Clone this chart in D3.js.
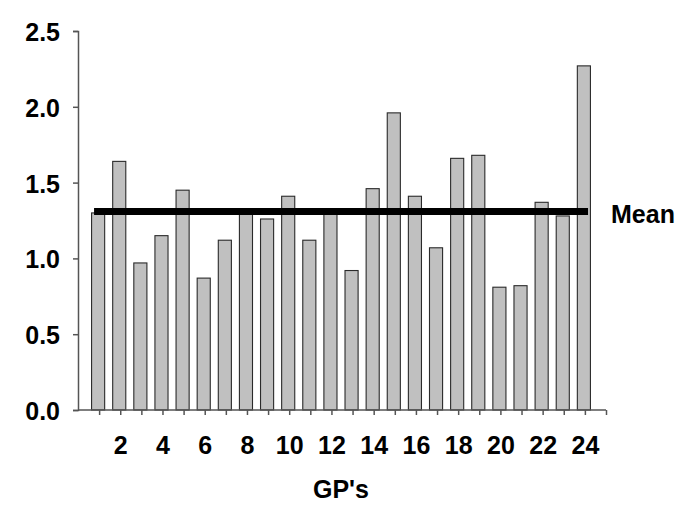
<!DOCTYPE html>
<html>
<head>
<meta charset="utf-8">
<script src="https://cdn.jsdelivr.net/npm/d3@7"></script>
<style>
  body { margin: 0; background: #fff; }
  svg text { font-family: "Liberation Sans", Arial, sans-serif; font-weight: bold; fill: #000; }
</style>
</head>
<body>
<svg id="chart" width="700" height="520"></svg>
<script>
// GP number and value for each bar
var gps = [1, 2, 3, 4, 5, 6, 7, 8, 9, 10, 11, 12, 13, 14, 15, 16, 17, 18, 19, 20, 21, 22, 23, 24];
var values = [1.30, 1.64, 0.97, 1.15, 1.45, 0.87, 1.12, 1.30, 1.26, 1.41, 1.12, 1.30,
              0.92, 1.46, 1.96, 1.41, 1.07, 1.66, 1.68, 0.81, 0.82, 1.37, 1.28, 2.27];
var meanValue = 1.31;
var yTicks = [0, 0.5, 1.0, 1.5, 2.0, 2.5];
var xTickLabels = [2, 4, 6, 8, 10, 12, 14, 16, 18, 20, 22, 24];

var svg = d3.select("#chart");
var plotLeft = 78, plotRight = 606, plotTop = 31, plotBottom = 410;

var x = d3.scaleLinear().domain([0, 25]).range([plotLeft, plotRight]);
var y = d3.scaleLinear().domain([0, 2.5]).range([plotBottom, plotTop]);
var step = x(1) - x(0);
var barW = step * 0.62;

// bars
svg.append("g").selectAll("rect")
    .data(gps)
    .enter().append("rect")
    .attr("x", function(d) { return x(d) - 1 - barW / 2; })
    .attr("y", function(d, i) { return y(values[i]); })
    .attr("width", barW)
    .attr("height", function(d, i) { return y(0) - y(values[i]); })
    .attr("fill", "#c0c0c0")
    .attr("stroke", "#2a2a2a")
    .attr("stroke-width", 1.1);

// y axis
var yAxis = svg.append("g")
    .attr("transform", "translate(" + plotLeft + ",0)")
    .call(d3.axisLeft(y).tickValues(yTicks).tickFormat(d3.format(".1f")).tickSize(5).tickPadding(13));
yAxis.select(".domain").attr("stroke", "#555").attr("stroke-width", 1.5);
yAxis.selectAll(".tick line").attr("stroke", "#555").attr("stroke-width", 1.5);
yAxis.selectAll("text").style("font-size", "25px").attr("dy", "0.38em");

// x axis: a tick at every GP, labels on the even ones
var xAxis = svg.append("g")
    .attr("transform", "translate(0," + plotBottom + ")")
    .call(d3.axisBottom(x).tickValues(d3.range(1, 26)).tickSize(5).tickPadding(21)
        .tickFormat(function(d) { return xTickLabels.indexOf(d) >= 0 ? d : ""; }));
xAxis.select(".domain").attr("stroke", "#555").attr("stroke-width", 1.5).attr("d", "M" + plotLeft + ",0H" + plotRight);
xAxis.selectAll(".tick line").attr("stroke", "#555").attr("stroke-width", 1.5);
xAxis.selectAll("text").style("font-size", "25px");

// mean line
svg.append("line")
    .attr("x1", x(0.76))
    .attr("x2", x(24.15))
    .attr("y1", y(meanValue))
    .attr("y2", y(meanValue))
    .attr("stroke", "#000")
    .attr("stroke-width", 7);

svg.append("text")
    .attr("x", 611)
    .attr("y", y(meanValue) + 12)
    .style("font-size", "25px")
    .text("Mean");

// axis title
svg.append("text")
    .attr("x", 341)
    .attr("y", 498)
    .attr("text-anchor", "middle")
    .style("font-size", "25px")
    .text("GP's");
</script>
</body>
</html>
